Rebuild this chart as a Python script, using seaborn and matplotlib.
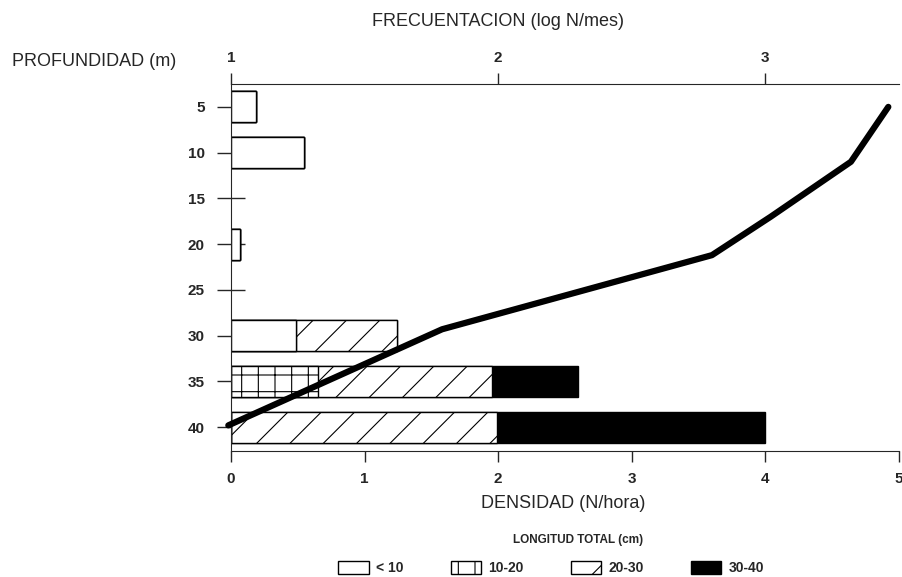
import numpy as np
import pandas as pd
import seaborn as sns
import matplotlib
matplotlib.use('Agg')
import matplotlib.pyplot as plt
from matplotlib.patches import Patch

# Densidad (N/hora) por clase de longitud total, a cada profundidad
depth = [5, 10, 20, 30, 35, 40]
menor_10 = [0.19, 0.55, 0.07, 0.49, 0.0, 0.0]
de_10_20 = [0.0, 0.0, 0.0, 0.0, 0.65, 0.0]
de_20_30 = [0.0, 0.0, 0.0, 0.75, 1.30, 1.99]
de_30_40 = [0.0, 0.0, 0.0, 0.0, 0.65, 2.01]

# Frecuentacion (log N/mes) frente a profundidad
frec_depth = [5, 11, 17, 21.2, 29.3, 39.8]
frec_log = [3.46, 3.32, 3.02, 2.80, 1.79, 0.99]

clases = ['< 10', '10-20', '20-30', '30-40']

sns.set_style('ticks')
plt.rcParams['font.family'] = ['Liberation Sans', 'DejaVu Sans']
plt.rcParams['hatch.linewidth'] = 0.8

df = pd.DataFrame({'depth': depth, '< 10': menor_10, '10-20': de_10_20,
                   '20-30': de_20_30, '30-40': de_30_40})
cum = df[clases].cumsum(axis=1)

fig, ax = plt.subplots(figsize=(9.02, 5.77), dpi=100)
fig.subplots_adjust(left=231/902, right=899/902, top=1-84/577, bottom=1-451/577)

# stacked bars: draw cumulative totals back to front
styles = {'< 10': ('white', ''), '10-20': ('white', '+'),
          '20-30': ('white', '/'), '30-40': ('black', '')}
for c in clases[::-1]:
    fc, h = styles[c]
    sns.barplot(x=cum[c], y=df['depth'], orient='y', native_scale=True,
                width=0.68, color=fc, saturation=1, edgecolor='black',
                linewidth=1, hatch=h, errorbar=None, ax=ax)

ax.set_xlim(0, 5)
ax.set_xticks(range(0, 6))
ax.set_yticks(range(5, 45, 5))
ax.tick_params(axis='y', direction='inout', length=20, width=1, labelsize=11, pad=9)
ax.tick_params(axis='x', direction='out', length=8, width=1, labelsize=11, pad=7)
for lab in ax.get_xticklabels() + ax.get_yticklabels():
    lab.set_fontweight('bold')
ax.spines['right'].set_visible(False)
ax.spines['top'].set_visible(False)

ax2 = ax.twiny()
sns.lineplot(x=frec_log, y=frec_depth, sort=False, estimator=None, color='black',
             lw=4.5, ax=ax2, clip_on=False)
ax2.set_xlim(1, 3.5)
ax2.set_xticks([1, 2, 3])
ax2.tick_params(axis='x', direction='out', length=8, width=1, labelsize=11, pad=6)
for lab in ax2.get_xticklabels():
    lab.set_fontweight('bold')
for s in ['left', 'right', 'bottom']:
    ax2.spines[s].set_visible(False)
ax2.set_ylabel('')

ax.set_ylim(42.6, 2.5)

ax.set_xlabel('DENSIDAD (N/hora)', fontsize=13, va='center')
ax.xaxis.set_label_coords(0.498, (451-503)/367)
ax2.set_xlabel('FRECUENTACION (log N/mes)', fontsize=13, va='center')
ax2.xaxis.set_label_coords(0.399, (451-21)/367)
ax.set_ylabel('PROFUNDIDAD (m)', fontsize=13, rotation=0, ha='left', va='center')
ax.yaxis.set_label_coords((12-231)/667, (451-62)/367)

fig.text(578/902, 1-540/577, 'LONGITUD TOTAL (cm)', fontsize=8.5,
         fontweight='bold', ha='center', va='center')
handles = [Patch(facecolor=styles[c][0], edgecolor='black', hatch=styles[c][1], lw=1)
           for c in clases]
fig.legend(handles, clases, loc='center', bbox_to_anchor=(551/902, 1-568/577),
           ncol=4, frameon=False, prop={'weight': 'bold', 'size': 10},
           handlelength=2.2, handleheight=1.1, handletextpad=0.5, columnspacing=3.4)

fig.savefig('out.png', dpi=100)
